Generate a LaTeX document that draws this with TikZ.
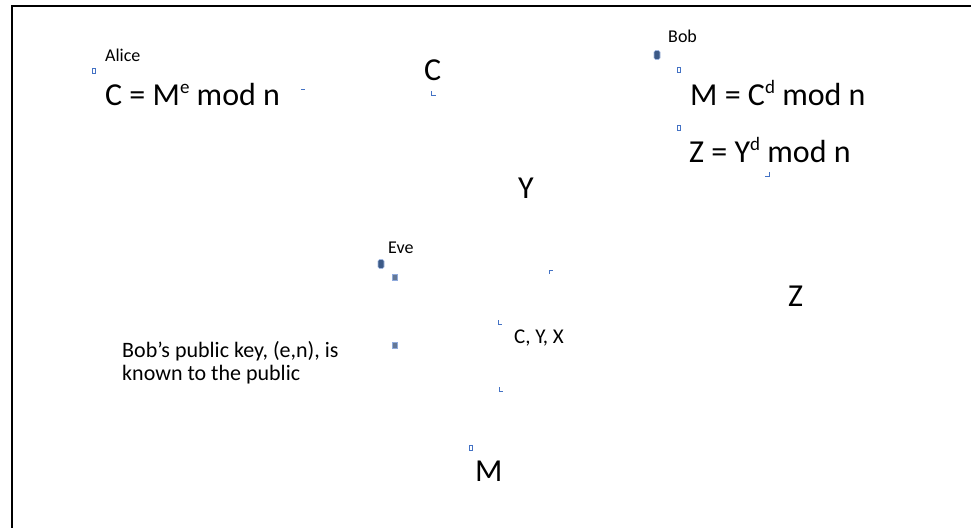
\documentclass[tikz,border=0pt]{standalone}
\usepackage{fontspec}
\setmainfont{Carlito}
\definecolor{mk}{RGB}{68,114,196}
\definecolor{mkd}{RGB}{60,90,135}
\definecolor{mkg}{RGB}{100,120,150}
\newcommand{\sups}[1]{\raisebox{0.36em}{\fontsize{19}{19}\selectfont #1}}
\begin{document}
\begin{tikzpicture}[x=1pt,y=-1pt,
  big/.style={anchor=base west,inner sep=0,font=\fontsize{32}{38}\selectfont},
  mid/.style={anchor=base west,inner sep=0,font=\fontsize{21}{23}\selectfont},
  small/.style={anchor=base west,inner sep=0,font=\fontsize{18}{20}\selectfont},
  sq/.style={draw=mk,line width=0.9pt,minimum width=3.5pt,minimum height=4.5pt,inner sep=0},
  fsq/.style={fill=mkg,draw=mk!60,line width=0.6pt,minimum width=5pt,minimum height=6pt,inner sep=0},
  dot/.style={fill=mkd,draw=mk!50,line width=0.6pt,rounded corners=1.5pt,minimum width=6pt,minimum height=9pt,inner sep=0},
  crn/.style={draw=mk,line width=0.9pt}]
\useasboundingbox (0,0) rectangle (971,527);
\begin{scope}
\clip (0,0) rectangle (971,527);
\draw[line width=2.2pt] (12,6) rectangle (990,545);
\end{scope}
% Alice
\node[small] (alice) at (105,62) {Alice};
\node[sq] (ma) at (94,71) {};
\node[big] (enc) at (105,105) {C = M\sups{e} mod n};
\draw[crn] (301,89) -- (305,89);
% C
\node[big] (c) at (424,80) {C};
\draw[crn] (431.5,91) -- (431.5,95) -- (435.5,95);
% Bob
\node[small] (bob) at (668,43) {Bob};
\node[dot] (mb) at (657,55) {};
\node[sq] (mb1) at (679,70) {};
\node[big] (dec) at (690,105) {M = C\sups{d} mod n};
\node[sq] (mb2) at (679,128) {};
\node[big] (sig) at (689,162) {Z = Y\sups{d} mod n};
\draw[crn] (765,176) -- (769,176) -- (769,172);
% Y
\node[big] (y) at (518,198) {Y};
% Eve
\node[small] (eve) at (388,253) {Eve};
\node[dot] (me) at (381,264) {};
\node[fsq] (me1) at (395,277) {};
\node[fsq] (me2) at (395,345) {};
\draw[crn] (549,274) -- (549,270) -- (553,270);
\draw[crn] (498,320) -- (498,324) -- (502,324);
\node[mid] (cyx) at (514,343) {C, Y, X};
% Z
\node[big] (z) at (788,306) {Z};
% public key text
\node[anchor=north west,inner sep=0,align=left,font=\fontsize{22}{23.5}\selectfont] (pk) at (122,341) {Bob’s public key, (e,n), is\\known to the public};
% M
\draw[crn] (499,387) -- (499,391) -- (503,391);
\node[sq] (mm) at (471,448) {};
\node[big] (m) at (475,481) {M};
\end{tikzpicture}
\end{document}
